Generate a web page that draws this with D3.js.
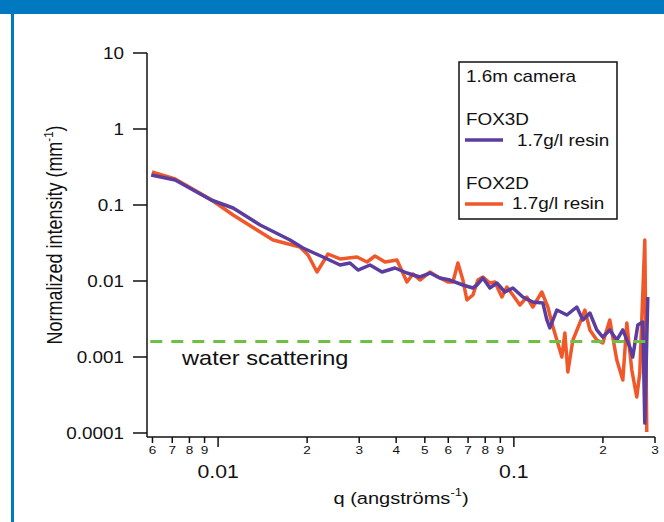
<!DOCTYPE html>
<html lang="en">
<head>
<meta charset="UTF-8">
<title>SAXS intensity vs q</title>
<script src="https://d3js.org/d3.v7.min.js"></script>
<style>
  body { margin: 0; background: #fff; }
  svg text { font-family: "Liberation Sans", Arial, sans-serif; fill: #111; }
</style>
</head>
<body>
<svg id="chart" width="664" height="522"></svg>
<script>
// data: q in 1/angstrom, intensity in 1/mm
const qFox3d = [0.00594, 0.00716, 0.00947, 0.01124, 0.01387, 0.01751, 0.01937, 0.02263, 0.02584, 0.02792,
  0.02972, 0.03263, 0.03582, 0.03963, 0.0435, 0.04813, 0.05202, 0.05623, 0.06078, 0.06724,
  0.07269, 0.075, 0.07858, 0.08296, 0.08762, 0.09324, 0.09922, 0.1072, 0.1159, 0.1253,
  0.1293, 0.1323, 0.1397, 0.1511, 0.1632, 0.1711, 0.1807, 0.1907, 0.1998, 0.211,
  0.2228, 0.2335, 0.2466, 0.2523, 0.2624, 0.2728, 0.2771, 0.2836];
const iFox3d = [0.248, 0.2133, 0.1163, 0.0913, 0.0546, 0.0346, 0.0272, 0.0207, 0.01624, 0.01725,
  0.01395, 0.01624, 0.01313, 0.01483, 0.01274, 0.01129, 0.01274, 0.01095, 0.0103, 0.00886,
  0.00809, 0.00886, 0.01095, 0.00809, 0.00941, 0.00717, 0.00809, 0.00616, 0.00529, 0.00514,
  0.00307, 0.00241, 0.00415, 0.00357, 0.00455, 0.00307, 0.00379, 0.00227, 0.00183, 0.00227,
  0.00167, 0.00227, 0.00135, 0.001, 0.00264, 0.00289, 0.000135, 0.00616];

const qFox2d = [0.00598, 0.00716, 0.0094, 0.01124, 0.01534, 0.01892, 0.02014, 0.0216, 0.02353, 0.02584,
  0.02949, 0.03187, 0.03392, 0.03667, 0.04025, 0.0435, 0.04558, 0.04813, 0.05202, 0.05536,
  0.05984, 0.06222, 0.06469, 0.06724, 0.06938, 0.07269, 0.07557, 0.07858, 0.08296, 0.08626,
  0.0911, 0.09471, 0.09922, 0.1048, 0.1106, 0.1159, 0.1243, 0.1303, 0.1344, 0.1397,
  0.1453, 0.1487, 0.1522, 0.1583, 0.1671, 0.1738, 0.1807, 0.1907, 0.1998, 0.211,
  0.2228, 0.2335, 0.2409, 0.2504, 0.2603, 0.2665, 0.2771, 0.2814];
const iFox2d = [0.2718, 0.2198, 0.12, 0.0739, 0.0346, 0.028, 0.022, 0.01313, 0.02266, 0.01948,
  0.0207, 0.01778, 0.02133, 0.01778, 0.0189, 0.0097, 0.01236, 0.0103, 0.01313, 0.01129,
  0.0097, 0.0097, 0.01725, 0.0103, 0.00562, 0.00654, 0.0103, 0.01129, 0.00941, 0.0097,
  0.00616, 0.00834, 0.00654, 0.00483, 0.00616, 0.00455, 0.00717, 0.00455, 0.0028, 0.00167,
  0.001, 0.00207, 0.000635, 0.00167, 0.0028, 0.00415, 0.00227, 0.00167, 0.00153, 0.00307,
  0.000913, 0.000498, 0.0028, 0.000675, 0.000298, 0.000616, 0.0346, 0.000103];

const waterLevel = 0.0016;

const yTicks = [10, 1, 0.1, 0.01, 0.001, 0.0001];
const yTickLabels = ["10", "1", "0.1", "0.01", "0.001", "0.0001"];
const xMajorTicks = [0.01, 0.1];
const xMajorLabels = ["0.01", "0.1"];
const xMinorTicks = [0.006, 0.007, 0.008, 0.009, 0.02, 0.03, 0.04, 0.05, 0.06, 0.07, 0.08, 0.09, 0.2, 0.3];
const xMinorLabels = ["6", "7", "8", "9", "2", "3", "4", "5", "6", "7", "8", "9", "2", "3"];

const purple = "#5b3c9f";
const orange = "#f0582a";
const green = "#6fbf45";
const SX = 1.18; // the original text is a bit wide

const svg = d3.select("#chart");

// blue frame
svg.append("rect").attr("x", 0).attr("y", 0).attr("width", 664).attr("height", 14).attr("fill", "#0079c1");
svg.append("rect").attr("x", 11).attr("y", 0).attr("width", 3).attr("height", 522).attr("fill", "#0079c1");

const x = d3.scaleLog().domain([0.00575, 0.3]).range([147, 655]);
const y = d3.scaleLog().domain([0.0001, 10]).range([433, 53]);
const axisY = 437;

function label(g, px, py, str, size, anchor) {
  return g.append("text")
    .attr("transform", `translate(${px},${py}) scale(${SX},1)`)
    .attr("font-size", size)
    .attr("text-anchor", anchor || "start")
    .text(str);
}

// y axis
const gy = svg.append("g").attr("stroke", "#111").attr("stroke-width", 1.5);
gy.append("line").attr("x1", 147).attr("x2", 147).attr("y1", y(10)).attr("y2", axisY);
gy.selectAll(".tk").data(yTicks).join("line")
  .attr("x1", 133).attr("x2", 147).attr("y1", d => y(d)).attr("y2", d => y(d));
const gyl = svg.append("g");
yTicks.forEach((t, i) => {
  label(gyl, 124, y(t) + 5.5, yTickLabels[i], 16, "end");
});

// x axis
const gx = svg.append("g").attr("stroke", "#111").attr("stroke-width", 1.5);
gx.append("line").attr("x1", 147).attr("x2", 655).attr("y1", axisY).attr("y2", axisY);
gx.selectAll(".mn").data(xMinorTicks).join("line")
  .attr("x1", d => x(d)).attr("x2", d => x(d)).attr("y1", axisY).attr("y2", axisY + 6);
gx.selectAll(".mj").data(xMajorTicks).join("line")
  .attr("x1", d => x(d)).attr("x2", d => x(d)).attr("y1", axisY).attr("y2", axisY + 10);
const gxl = svg.append("g");
xMinorTicks.forEach((t, i) => label(gxl, x(t), 454, xMinorLabels[i], 11.5, "middle"));
xMajorTicks.forEach((t, i) => label(gxl, x(t), 478, xMajorLabels[i], 18, "middle"));

// axis titles
const xt = label(svg, 401, 504, "q (angströms", 17, "middle");
xt.append("tspan").attr("font-size", 11).attr("dy", -8).text("-1");
xt.append("tspan").attr("dy", 8).text(")");

const yt = svg.append("text")
  .attr("transform", `translate(62,235) rotate(-90) scale(1,${SX})`)
  .attr("font-size", 18)
  .attr("text-anchor", "middle")
  .text("Normalized intensity (mm");
yt.append("tspan").attr("font-size", 11.5).attr("dy", -8).text("-1");
yt.append("tspan").attr("dy", 8).text(")");

// data
const line = d3.line().x(d => x(d[0])).y(d => y(d[1]));
const fox2d = d3.zip(qFox2d, iFox2d);
const fox3d = d3.zip(qFox3d, iFox3d);

svg.append("path").datum(fox2d)
  .attr("fill", "none").attr("stroke", orange).attr("stroke-width", 3.5)
  .attr("stroke-linejoin", "round").attr("d", line);
svg.append("path").datum(fox3d)
  .attr("fill", "none").attr("stroke", purple).attr("stroke-width", 3.5)
  .attr("stroke-linejoin", "round").attr("d", line);

// water scattering level
svg.append("line")
  .attr("x1", x(0.0059)).attr("x2", x(0.28))
  .attr("y1", y(waterLevel)).attr("y2", y(waterLevel))
  .attr("stroke", green).attr("stroke-width", 3).attr("stroke-dasharray", "12,9");
label(svg, 182, 365, "water scattering", 20, "start");

// legend
const lg = svg.append("g");
lg.append("rect").attr("x", 459).attr("y", 62).attr("width", 158).attr("height", 157)
  .attr("fill", "#fff").attr("stroke", "#111").attr("stroke-width", 1.5);
label(lg, 466, 82, "1.6m camera", 16);
label(lg, 466, 125, "FOX3D", 16);
lg.append("line").attr("x1", 465).attr("x2", 503).attr("y1", 140).attr("y2", 140)
  .attr("stroke", purple).attr("stroke-width", 3.5);
label(lg, 517, 146, "1.7g/l resin", 16);
label(lg, 466, 189, "FOX2D", 16);
lg.append("line").attr("x1", 465).attr("x2", 503).attr("y1", 204).attr("y2", 204)
  .attr("stroke", orange).attr("stroke-width", 3.5);
label(lg, 512, 209, "1.7g/l resin", 16);
</script>
</body>
</html>
